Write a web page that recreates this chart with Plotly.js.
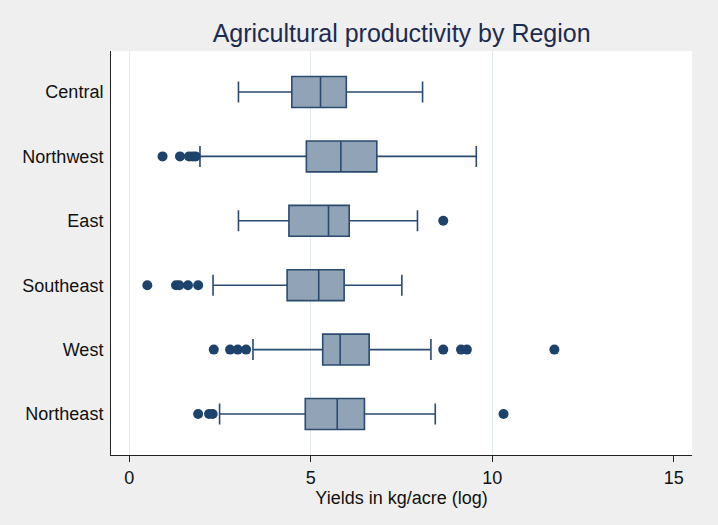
<!DOCTYPE html>
<html>
<head>
<meta charset="utf-8">
<script src="https://cdn.plot.ly/plotly-3.0.1.min.js"></script>
<style>html,body{margin:0;padding:0;background:#efefef;}#chart{width:718px;height:525px;}</style>
</head>
<body>
<div id="chart"></div>
<script>
const regions = ['Central', 'Northwest', 'East', 'Southeast', 'West', 'Northeast'];
const q1 = [4.48, 4.88, 4.40, 4.35, 5.33, 4.85];
const median = [5.27, 5.83, 5.49, 5.22, 5.81, 5.73];
const q3 = [5.98, 6.82, 6.06, 5.92, 6.61, 6.48];
const lowerFence = [3.01, 1.95, 3.01, 2.31, 3.41, 2.49];
const upperFence = [8.08, 9.56, 7.94, 7.51, 8.31, 8.43];

const outlierRegion = [
  'Northwest', 'Northwest', 'Northwest', 'Northwest', 'Northwest',
  'East',
  'Southeast', 'Southeast', 'Southeast', 'Southeast', 'Southeast',
  'West', 'West', 'West', 'West', 'West', 'West', 'West', 'West',
  'Northeast', 'Northeast', 'Northeast', 'Northeast'
];
const outlierValue = [
  0.92, 1.40, 1.65, 1.75, 1.83,
  8.65,
  0.50, 1.29, 1.38, 1.62, 1.90,
  2.33, 2.78, 2.99, 3.22, 8.65, 9.14, 9.30, 11.71,
  1.90, 2.20, 2.30, 10.31
];
const xTicks = [0, 5, 10, 15];
const gridTicks = [0, 5, 10];

const boxTrace = {
  type: 'box',
  orientation: 'h',
  y: regions,
  q1: q1,
  median: median,
  q3: q3,
  lowerfence: lowerFence,
  upperfence: upperFence,
  boxpoints: false,
  width: 0.48,
  whiskerwidth: 0.68,
  fillcolor: '#91a3b6',
  line: {color: '#2a4a70', width: 1.6},
  xaxis: 'x', yaxis: 'y',
  hoverinfo: 'skip',
  showlegend: false
};

const outlierTrace = {
  type: 'scatter',
  mode: 'markers',
  x: outlierValue,
  y: outlierRegion,
  marker: {color: '#1d426c', size: 10},
  xaxis: 'x', yaxis: 'y',
  showlegend: false,
  hoverinfo: 'skip'
};

const font = 'Liberation Sans, Arial, Helvetica, sans-serif';

const layout = {
  width: 718,
  height: 525,
  paper_bgcolor: '#efefef',
  plot_bgcolor: '#ffffff',
  margin: {l: 111, r: 26, t: 51, b: 70},
  title: {
    text: 'Agricultural productivity by Region',
    font: {family: font, size: 25, color: '#1d2b50'},
    x: 0.5594, xanchor: 'center',
    y: 0.937, yanchor: 'middle'
  },
  xaxis: {
    range: [-0.5, 15.5],
    tickvals: xTicks,
    ticktext: xTicks.map(String),
    showgrid: false,
    zeroline: false,
    showline: true,
    linecolor: '#222222',
    linewidth: 1,
    ticks: 'outside',
    ticklen: 6,
    tickcolor: '#222222',
    tickfont: {family: font, size: 18, color: '#111111'},
    title: {text: 'Yields in kg/acre (log)', font: {family: font, size: 18, color: '#111111'}, standoff: 4},
    fixedrange: true
  },
  xaxis2: {
    overlaying: 'x',
    matches: 'x',
    range: [-0.5, 15.5],
    tickvals: gridTicks,
    showticklabels: false,
    ticks: '',
    showgrid: true,
    gridcolor: '#e2eaee',
    gridwidth: 1,
    zeroline: false,
    showline: false
  },
  yaxis: {
    type: 'category',
    categoryorder: 'array',
    categoryarray: regions,
    range: [5.637, -0.637],
    autorange: false,
    showgrid: false,
    zeroline: false,
    showline: true,
    linecolor: '#222222',
    linewidth: 1,
    ticks: 'outside',
    ticklen: 3,
    tickcolor: 'rgba(0,0,0,0)',
    tickfont: {family: font, size: 18, color: '#111111'}
  }
};

const gridHolder = {
  type: 'scatter', mode: 'markers', x: [], y: [], xaxis: 'x2', yaxis: 'y',
  showlegend: false, hoverinfo: 'skip'
};

Plotly.newPlot('chart', [gridHolder, boxTrace, outlierTrace], layout, {displayModeBar: false, staticPlot: true});
</script>
</body>
</html>
